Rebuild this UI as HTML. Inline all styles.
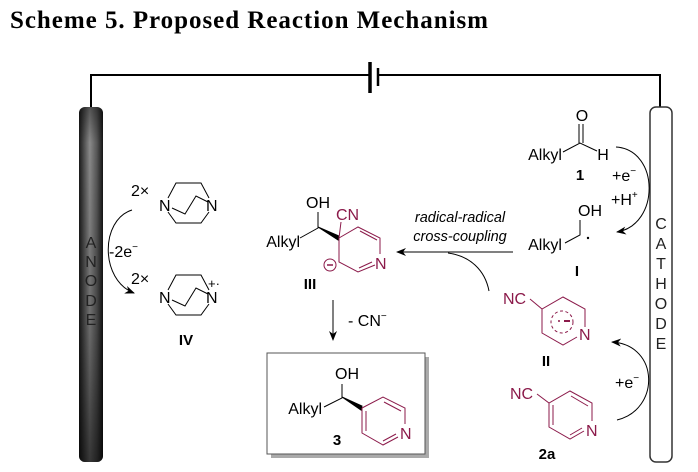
<!DOCTYPE html>
<html><head><meta charset="utf-8"><style>
html,body{margin:0;padding:0;background:#fff;}
svg{display:block;}
text{font-family:"Liberation Sans",Arial,sans-serif;}
</style></head><body>
<svg width="698" height="472" viewBox="0 0 698 472" xmlns="http://www.w3.org/2000/svg">
<defs>
<linearGradient id="an" x1="0" x2="1" y1="0" y2="0">
<stop offset="0" stop-color="#1a1a1a"/><stop offset="0.45" stop-color="#8a8a8a"/><stop offset="0.75" stop-color="#555"/><stop offset="1" stop-color="#151515"/>
</linearGradient>
<linearGradient id="anv" x1="0" x2="0" y1="0" y2="1">
<stop offset="0" stop-color="#000" stop-opacity="0.4"/><stop offset="0.1" stop-color="#000" stop-opacity="0"/><stop offset="0.6" stop-color="#000" stop-opacity="0.2"/><stop offset="1" stop-color="#000" stop-opacity="0.6"/>
</linearGradient>
<marker id="ah" markerWidth="10" markerHeight="8" refX="9" refY="4" orient="auto" markerUnits="userSpaceOnUse">
<path d="M0,0 L10,4 L0,8 L3,4 Z" fill="#000"/></marker>
</defs>
<text x="10" y="28" font-weight="bold" font-size="25" textLength="478" style="font-family:'Liberation Serif',serif">Scheme 5. Proposed Reaction Mechanism</text>

<g stroke="#000" stroke-width="2" fill="none">
<path d="M91,107 V75 H370"/>
<path d="M378,75 H660 V107"/>
</g>
<line x1="370" y1="62" x2="370" y2="93" stroke="#000" stroke-width="3.5"/>
<line x1="378" y1="68" x2="378" y2="86" stroke="#000" stroke-width="2.5"/>

<rect x="79" y="107" width="24" height="355" rx="6" fill="url(#an)"/>
<rect x="79" y="107" width="24" height="355" rx="6" fill="url(#anv)"/>
<g font-size="16" fill="#222" text-anchor="middle">
<text x="91" y="248">A</text><text x="91" y="267">N</text><text x="91" y="286">O</text><text x="91" y="306">D</text><text x="91" y="325">E</text>
</g>

<rect x="650" y="107" width="22" height="355" rx="6" fill="#fff" stroke="#333" stroke-width="1.5"/>
<g font-size="16" fill="#222" text-anchor="middle">
<text x="661" y="229">C</text><text x="661" y="249">A</text><text x="661" y="269">T</text><text x="661" y="289">H</text><text x="661" y="309">O</text><text x="661" y="329">D</text><text x="661" y="349">E</text>
</g>

<g font-size="16" fill="#000">
<text x="131" y="196">2×</text>
<text x="131" y="284">2×</text>
<text x="159" y="211">N</text><text x="206" y="211">N</text>
<text x="159" y="303">N</text><text x="206" y="303">N</text>
<text x="208" y="288" font-size="13">+·</text>
</g>
<g stroke="#000" stroke-width="1" fill="none">
<path d="M168,198 L176,183 H201 L209,198"/>
<path d="M168,212 L176,223 H201 L209,212"/>
<path d="M172,208 L185,214 L196,196 L208,202"/>
<path d="M168,290 L176,275 H201 L209,290"/>
<path d="M168,304 L176,315 H201 L209,304"/>
<path d="M172,300 L185,306 L196,288 L208,294"/>
</g>
<text x="186" y="345" font-size="15" font-weight="bold" text-anchor="middle">IV</text>
<path d="M132,210 C100,220 100,280 134,293" stroke="#000" fill="none" stroke-width="1" marker-end="url(#ah)"/>
<text x="109" y="257" font-size="16">-2e<tspan font-size="10" dy="-7">−</tspan></text>

<!-- III -->
<g font-size="16">
<text x="318" y="208" text-anchor="middle">OH</text>
<text x="300" y="247" text-anchor="end">Alkyl</text>
<text x="336" y="220" fill="#8b1a4a">CN</text>
<text x="375" y="269" fill="#8b1a4a">N</text>
</g>
<path d="M300,238 L318,228 L318,212" stroke="#000" fill="none"/>
<path d="M318,227 L339,236 L338,240 Z" fill="#000" stroke="#000" stroke-width="1"/>
<g stroke="#8b1a4a" stroke-width="1" fill="none">
<path d="M339,238 L341,222"/>
<path d="M339,238 L358,227 L380,238 L380,254"/>
<path d="M360,231 L377,240"/>
<path d="M339,238 V262 L358,272 L375,265"/>
<path d="M359,268 L372,262"/>
<circle cx="330" cy="265" r="6"/>
<line x1="327" y1="265" x2="333" y2="265" stroke-width="1.5"/>
</g>
<text x="310" y="289" font-size="15" font-weight="bold" text-anchor="middle">III</text>

<line x1="333" y1="300" x2="333" y2="340" stroke="#000" stroke-width="1" marker-end="url(#ah)"/>
<text x="348" y="326" font-size="16">- CN<tspan font-size="10" dy="-7">−</tspan></text>

<!-- product 3 -->
<rect x="271" y="357" width="158" height="101" fill="#aaa"/>
<rect x="267" y="353" width="158" height="101" fill="#fff" stroke="#555" stroke-width="1"/>
<g font-size="16">
<text x="347" y="379" text-anchor="middle">OH</text>
<text x="322" y="414" text-anchor="end">Alkyl</text>
<text x="400" y="439" fill="#8b1a4a">N</text>
</g>
<text x="337" y="445" font-size="15" font-weight="bold" text-anchor="middle">3</text>
<path d="M324,407 L342,398 L342,384" stroke="#000" fill="none"/>
<path d="M342,397 L362,406 L361,410 Z" fill="#000" stroke="#000"/>
<g stroke="#8b1a4a" stroke-width="1" fill="none">
<path d="M362,408 L383,397 L405,408 L405,424"/>
<path d="M384,402 L401,411"/>
<path d="M362,408 V433 L383,445 L398,437"/>
<path d="M366,411 V431"/>
<path d="M383,441 L396,434"/>
</g>

<!-- 1 -->
<g font-size="16">
<text x="582" y="121" text-anchor="middle">O</text>
<text x="545" y="160" text-anchor="middle">Alkyl</text>
<text x="603" y="160" text-anchor="middle">H</text>
</g>
<path d="M563,152 L580,143 L597,151" stroke="#000" fill="none"/>
<path d="M579,143 V124 M583,143 V124" stroke="#000" fill="none"/>
<text x="580" y="180" font-size="15" font-weight="bold" text-anchor="middle">1</text>
<path d="M616,147 C660,150 660,225 617,232" stroke="#000" fill="none" marker-end="url(#ah)"/>
<text x="612" y="181" font-size="16">+e<tspan font-size="10" dy="-7">−</tspan></text>
<text x="611" y="205" font-size="16">+H<tspan font-size="10" dy="-7">+</tspan></text>

<!-- I -->
<g font-size="16">
<text x="590" y="216" text-anchor="middle">OH</text>
<text x="545" y="250" text-anchor="middle">Alkyl</text>
</g>
<path d="M565,243 L580,235 L580,220" stroke="#000" fill="none"/>
<circle cx="588" cy="238" r="1.2" fill="#000"/>
<text x="577" y="276" font-size="15" font-weight="bold" text-anchor="middle">I</text>

<text x="460" y="222" font-size="14.5" font-style="italic" text-anchor="middle">radical-radical</text>
<text x="460" y="241" font-size="14.5" font-style="italic" text-anchor="middle">cross-coupling</text>
<line x1="513" y1="252" x2="397" y2="252" stroke="#000" marker-end="url(#ah)"/>
<path d="M489,291 C485,270 470,256 448,253" stroke="#000" fill="none"/>

<!-- II -->
<g font-size="16" fill="#8b1a4a">
<text x="503" y="304">NC</text>
<text x="579" y="340">N</text>
</g>
<g stroke="#8b1a4a" stroke-width="1" fill="none">
<path d="M530,299 L542,309 L563,297 L585,309 V327"/>
<path d="M542,309 V333 L563,345 L577,337"/>
<circle cx="562" cy="322" r="11" stroke-dasharray="3,2.5"/>
<line x1="564" y1="321" x2="570" y2="321" stroke-width="2"/>
</g>
<circle cx="559" cy="321" r="1" fill="#8b1a4a"/>
<text x="546" y="366" font-size="15" font-weight="bold" text-anchor="middle">II</text>
<path d="M617,420 C660,410 660,345 612,342" stroke="#000" fill="none" marker-end="url(#ah)"/>
<text x="615" y="388" font-size="16">+e<tspan font-size="10" dy="-7">−</tspan></text>

<!-- 2a -->
<g font-size="16" fill="#8b1a4a">
<text x="510" y="399">NC</text>
<text x="586" y="436">N</text>
</g>
<g stroke="#8b1a4a" stroke-width="1" fill="none">
<path d="M537,394 L549,403 L570,391 L592,403 V421"/>
<path d="M571,396 L588,406"/>
<path d="M549,403 V427 L570,439 L584,431"/>
<path d="M553,405 V425"/>
<path d="M570,435 L582,428"/>
</g>
<text x="547" y="459" font-size="15" font-weight="bold" text-anchor="middle">2a</text>
</svg>
</body></html>
